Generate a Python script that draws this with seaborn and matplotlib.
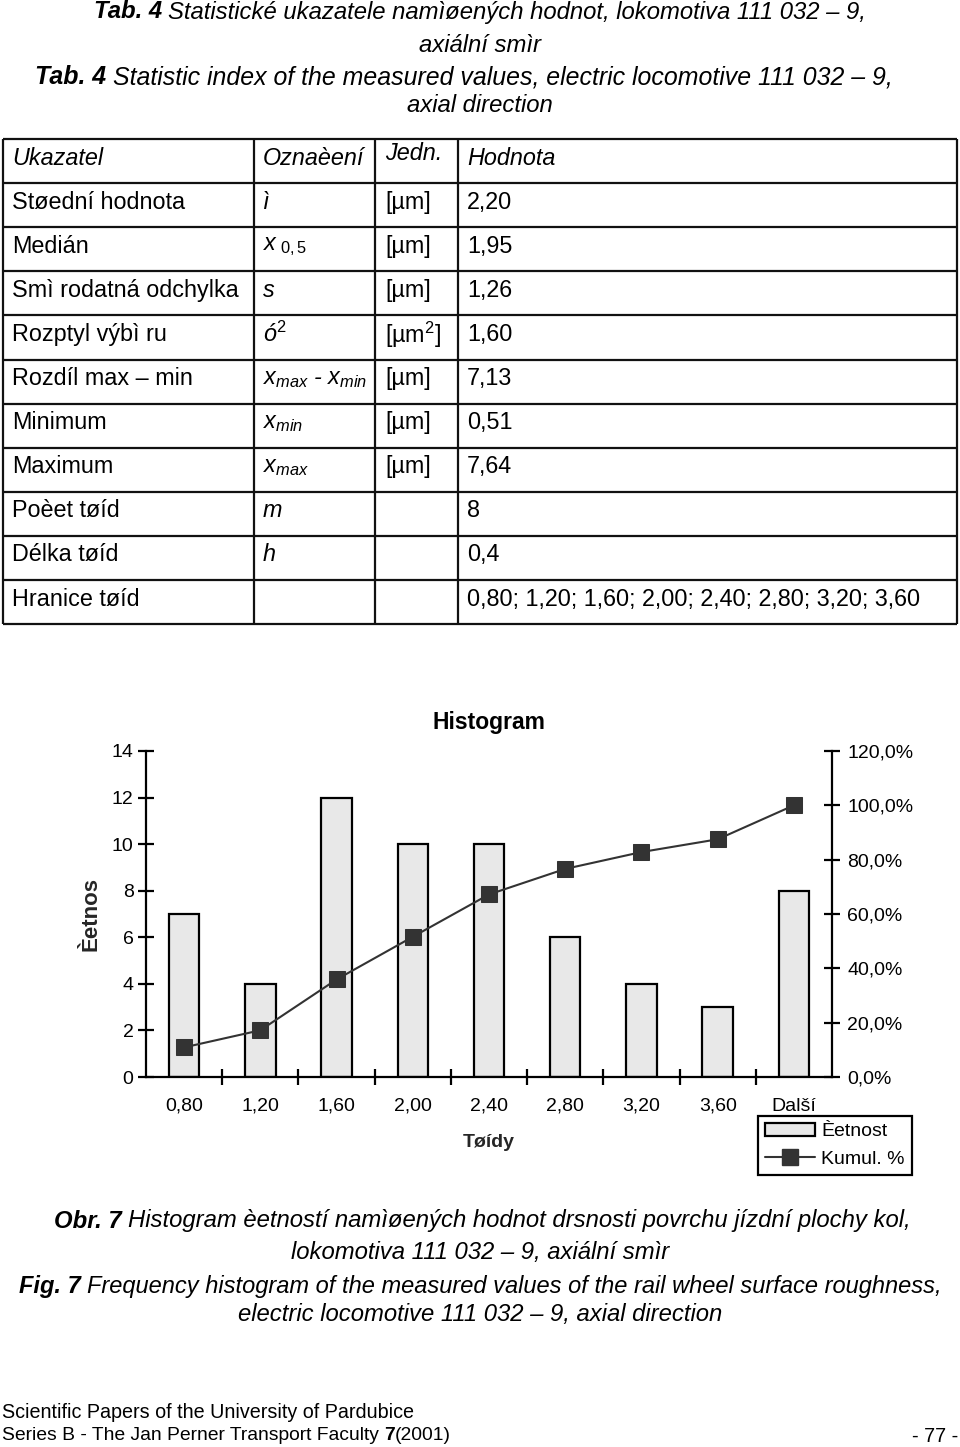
import matplotlib
matplotlib.use("Agg")
import matplotlib.pyplot as plt
import seaborn as sns
import pandas as pd
import numpy as np
from matplotlib.lines import Line2D
from matplotlib.patches import Patch

# ---------------- data ----------------
classes = ["0,80", "1,20", "1,60", "2,00", "2,40", "2,80", "3,20", "3,60", "Další"]
counts = [7, 4, 12, 10, 10, 6, 4, 3, 8]
cumul_pct = [10.9, 17.2, 35.9, 51.6, 67.2, 76.6, 82.8, 87.5, 100.0]
left_ticks = [0, 2, 4, 6, 8, 10, 12, 14]
right_ticks = [0, 20, 40, 60, 80, 100, 120]

table_headers = ["Ukazatel", "Oznaèení", "Jedn.", "Hodnota"]
table_names = ["Støední hodnota", "Medián", "Smì rodatná odchylka", "Rozptyl výbì ru",
               "Rozdíl max – min", "Minimum", "Maximum", "Poèet tøíd", "Délka tøíd",
               "Hranice tøíd"]
table_symbols = ["ì", r"$x_{\ \mathrm{0,5}}$", "s", r"ó$^{\mathrm{2}}$",
                 r"$x_{max}$ - $x_{min}$", r"$x_{min}$", r"$x_{max}$", "m", "h", ""]
table_units = ["[µm]", "[µm]", "[µm]", r"[µm$^{2}$]", "[µm]", "[µm]", "[µm]", "", "", ""]
table_values = ["2,20", "1,95", "1,26", "1,60", "7,13", "0,51", "7,64", "8", "0,4",
                "0,80; 1,20; 1,60; 2,00; 2,40; 2,80; 3,20; 3,60"]

title_cz = [("Tab. 4", "bold"), ("Statistické ukazatele namìøených hodnot, lokomotiva 111 032 – 9,", "normal")]
title_cz2 = "axiální smìr"
title_en = [("Tab. 4", "bold"), ("Statistic index of the measured values, electric locomotive 111 032 – 9,", "normal")]
title_en2 = "axial direction"
cap_cz = [("Obr. 7", "bold"), ("Histogram èetností namìøených hodnot drsnosti povrchu jízdní plochy kol,", "normal")]
cap_cz2 = "lokomotiva 111 032 – 9, axiální smìr"
cap_en = [("Fig. 7", "bold"), ("Frequency histogram of the measured values of the rail wheel surface roughness,", "normal")]
cap_en2 = "electric locomotive 111 032 – 9, axial direction"
footer1 = "Scientific Papers of the University of Pardubice"
footer2 = [("Series B - The Jan Perner Transport Faculty", "normal", 0), ("7", "bold", 1), ("(2001)", "normal", 0)]
page_no = "- 77 -"

# ---------------- style ----------------
sns.set_theme(style="ticks")
FONT = ["Liberation Sans", "DejaVu Sans"]
plt.rcParams["font.family"] = FONT
plt.rcParams["mathtext.fontset"] = "custom"
plt.rcParams["mathtext.rm"] = "Liberation Sans"
plt.rcParams["mathtext.it"] = "Liberation Sans:italic"
plt.rcParams["mathtext.bf"] = "Liberation Sans:bold"
plt.rcParams["axes.edgecolor"] = "black"
plt.rcParams["xtick.color"] = "black"
plt.rcParams["ytick.color"] = "black"
plt.rcParams["text.color"] = "black"

W, H = 960, 1447
fig = plt.figure(figsize=(W / 100, H / 100), dpi=100)
fig.patch.set_facecolor("white")

page = fig.add_axes([0, 0, 1, 1])
page.set_xlim(0, W)
page.set_ylim(H, 0)
page.axis("off")
renderer = fig.canvas.get_renderer()


def text_width(t):
    return t.get_window_extent(renderer).width


def mixed_line(y, parts, size, cx=None, x0=None, style="italic"):
    arts = []
    for p in parts:
        txt, weight = p[0], p[1]
        t = page.text(0, y, txt, fontsize=size, fontweight=weight, fontstyle=style,
                      ha="left", va="center")
        arts.append((t, p[2] if len(p) > 2 else 1))
    gap = size * 100 / 72 * 0.28
    widths = [text_width(t) for t, _ in arts]
    total = sum(widths) + gap * sum(g for _, g in arts[1:])
    x = cx - total / 2 if cx is not None else x0
    for i, ((t, g), w) in enumerate(zip(arts, widths)):
        if i > 0:
            x += gap * g
        t.set_x(x)
        x += w


# headers / captions
CAP = 17.2
mixed_line(12, title_cz, CAP, cx=480)
page.text(480, 46, title_cz2, fontsize=CAP, fontstyle="italic", ha="center", va="center")
mixed_line(77, title_en, 17.9, cx=464)
page.text(480, 106, title_en2, fontsize=CAP, fontstyle="italic", ha="center", va="center")

# table
top, rh = 139, 44.1
nrows = len(table_names) + 1
cols = [3, 254, 375, 458, 957]
lw_t = 1.6
for k in range(nrows + 1):
    page.plot([cols[0], cols[-1]], [top + k * rh] * 2, color="#111111", lw=lw_t,
              solid_capstyle="butt")
bottom = top + nrows * rh
for c in cols:
    page.plot([c, c], [top, bottom], color="#111111", lw=lw_t, solid_capstyle="butt")

TS = 16.8
tx = [12, 263, 385, 467]
for j, h in enumerate(table_headers):
    dy = -5 if j == 2 else 0
    page.text(tx[j], top + rh * 0.5 - 3 + dy, h, fontsize=TS, fontstyle="italic",
              ha="left", va="center")
for i in range(len(table_names)):
    yc = top + rh * (i + 1.5) - 3
    page.text(tx[0], yc, table_names[i], fontsize=TS, ha="left", va="center")
    if table_symbols[i]:
        page.text(tx[1], yc, table_symbols[i], fontsize=TS, fontstyle="italic",
                  ha="left", va="center")
    if table_units[i]:
        page.text(tx[2], yc, table_units[i], fontsize=TS, ha="left", va="center")
    page.text(tx[3], yc, table_values[i], fontsize=TS, ha="left", va="center")

# ---------------- chart ----------------
x0, x1, yb, yt = 146, 832, 1077, 751
ax = fig.add_axes([x0 / W, 1 - yb / H, (x1 - x0) / W, (yb - yt) / H])
ax.set_facecolor("none")
df = pd.DataFrame({"Tøídy": classes, "Èetnost": counts, "Kumul": cumul_pct})
sns.barplot(data=df, x="Tøídy", y="Èetnost", ax=ax, color="#e8e8e8", saturation=1,
            edgecolor="black", linewidth=1.6, width=0.4)
ax2 = ax.twinx()
sns.lineplot(data=df, x="Tøídy", y="Kumul", ax=ax2, color="#333333", marker="s",
             markersize=11, markeredgecolor="#333333", linewidth=1.5, sort=False)

ax.set_xlim(-0.5, 8.5)
ax.set_ylim(0, 14)
ax2.set_ylim(0, 120)

TK = 14
ax.set_yticks(left_ticks)
ax.set_yticklabels([str(v) for v in left_ticks])
ax.tick_params(axis="y", direction="inout", length=12, width=1.6, labelsize=TK, pad=3)
ax.set_xticks(range(len(classes)))
ax.set_xticklabels(classes)
ax.tick_params(axis="x", which="major", length=0, labelsize=TK, pad=15)
ax.set_xticks(np.arange(0.5, len(classes) - 1, 1.0), minor=True)
ax.tick_params(axis="x", which="minor", direction="inout", length=12, width=1.6)

ax2.set_yticks(right_ticks)
ax2.set_yticklabels([f"{v:.1f}".replace(".", ",") + "%" for v in right_ticks])
ax2.tick_params(axis="y", direction="inout", length=12, width=1.6, labelsize=TK, pad=5)

for a in (ax, ax2):
    a.spines["top"].set_visible(False)
    for s in a.spines.values():
        s.set_linewidth(1.6)
ax.spines["right"].set_visible(False)
ax2.spines["left"].set_visible(False)
ax2.spines["bottom"].set_visible(False)

ax.set_title("Histogram", fontsize=16.5, fontweight="bold", pad=16)
ax.set_xlabel("Tøídy", fontsize=14, fontweight="bold", labelpad=14)
ax.set_ylabel("Èetnos", fontsize=16, fontweight="bold", labelpad=7)
ax2.set_ylabel("")

handles = [Patch(facecolor="#e8e8e8", edgecolor="black", linewidth=1.6),
           Line2D([], [], color="#333333", marker="s", markersize=11, linewidth=1.5)]
leg = fig.legend(handles, ["Èetnost", "Kumul. %"], loc="upper left",
                 bbox_to_anchor=(758 / W, 1 - 1116 / H), frameon=True, fancybox=False,
                 edgecolor="black", framealpha=1, borderaxespad=0, fontsize=TK,
                 handlelength=2.6, handletextpad=0.3, borderpad=0.35, labelspacing=0.5)
leg.get_frame().set_linewidth(1.6)

# captions under figure
mixed_line(1221, cap_cz, CAP, cx=482)
page.text(480, 1253, cap_cz2, fontsize=CAP, fontstyle="italic", ha="center", va="center")
mixed_line(1286, cap_en, 17.0, cx=480)
page.text(480, 1315, cap_en2, fontsize=CAP, fontstyle="italic", ha="center", va="center")

# footer
FS = 14.2
page.text(2, 1412, footer1, fontsize=FS, ha="left", va="center")
mixed_line(1436, footer2, 13.85, x0=2, style="normal")
page.text(958, 1436, page_no, fontsize=FS, ha="right", va="center")

fig.savefig("out.png", dpi=100, facecolor="white")
